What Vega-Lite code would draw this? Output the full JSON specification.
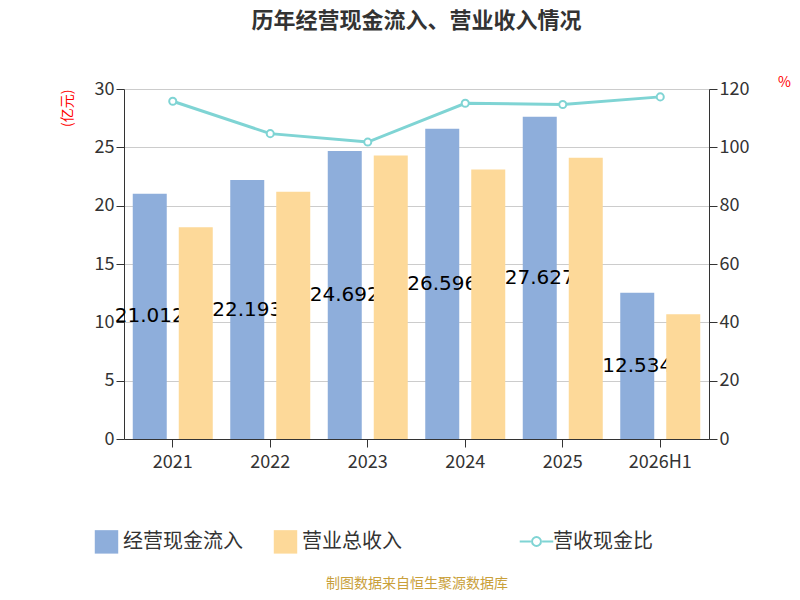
{
  "$schema": "https://vega.github.io/schema/vega-lite/v6.json",
  "width": 585,
  "height": 350,
  "background": "white",
  "padding": {"left": 60, "top": 10, "right": 5, "bottom": 5},
  "title": {"text": "历年经营现金流入、营业收入情况", "fontSize": 22, "font": "Noto Sans CJK SC", "fontWeight": "bold", "color": "#333", "offset": 42},
  "config": {"font": "Noto Sans CJK SC", "view": {"stroke": null}},
  "data": {"values": [
    {"year": "2021", "cf": 21.012, "rev": 18.15, "ratio": 115.8},
    {"year": "2022", "cf": 22.193, "rev": 21.2, "ratio": 104.7},
    {"year": "2023", "cf": 24.692, "rev": 24.3, "ratio": 101.8},
    {"year": "2024", "cf": 26.596, "rev": 23.1, "ratio": 115.1},
    {"year": "2025", "cf": 27.627, "rev": 24.1, "ratio": 114.7},
    {"year": "2026H1", "cf": 12.534, "rev": 10.7, "ratio": 117.3}
  ]},
  "encoding": {
    "x": {"field": "year", "type": "nominal", "sort": null, "title": "制图数据来自恒生聚源数据库",
      "axis": {"labelAngle": 0, "labelFontSize": 18, "labelColor": "#333", "domainColor": "#333", "tickColor": "#333", "tickSize": 8, "labelPadding": 6,
        "titleColor": "#c9a03a", "titleFontSize": 14, "titleFontWeight": "normal", "titlePadding": 105}}
  },
  "layer": [
    {
      "layer": [
        {
          "mark": {"type": "bar", "width": 34, "xOffset": -23},
          "encoding": {
            "y": {"field": "cf", "type": "quantitative"},
            "color": {"datum": "经营现金流入"}
          }
        },
        {
          "transform": [{"calculate": "datum.cf / 2", "as": "mid"}],
          "mark": {"type": "text", "fontSize": 20, "font": "DejaVu Sans", "color": "black", "baseline": "middle", "dx": -23},
          "encoding": {
            "y": {"field": "mid", "type": "quantitative"},
            "text": {"field": "cf", "type": "nominal"}
          }
        },
        {
          "mark": {"type": "bar", "width": 34, "xOffset": 23},
          "encoding": {
            "y": {"field": "rev", "type": "quantitative", "scale": {"domain": [0, 30]},
              "axis": {"title": "(亿元)", "titleColor": "red", "titleFontSize": 14, "titleFontWeight": "normal", "titleAngle": -90, "titleAlign": "right", "titleAnchor": "end", "titleY": 0, "titleX": -50,
                "values": [0, 5, 10, 15, 20, 25, 30], "labelFontSize": 18, "labelColor": "#333", "domain": true, "domainColor": "#333", "tickColor": "#333", "tickSize": 8, "gridColor": "#ccc"}},
            "color": {"datum": "营业总收入",
              "scale": {"domain": ["经营现金流入", "营业总收入"], "range": ["#8eaedb", "#fdd999"]},
              "legend": {"orient": "none", "legendX": -30, "legendY": 440, "direction": "horizontal", "title": null, "symbolType": "square", "symbolSize": 550, "labelFontSize": 20, "labelColor": "#333", "columnPadding": 30}}
          }
        }
      ]
    },
    {
      "layer": [
        {
          "mark": {"type": "line", "color": "#7fd4d4", "strokeWidth": 3},
          "encoding": {
            "y": {"field": "ratio", "type": "quantitative", "scale": {"domain": [0, 120]},
              "axis": {"orient": "right", "title": "%", "titleColor": "red", "titleFontSize": 14, "titleFontWeight": "normal", "titleAngle": 0, "titleY": 0, "titleX": 75,
                "values": [0, 20, 40, 60, 80, 100, 120], "labelFontSize": 18, "labelColor": "#333", "grid": false, "domainColor": "#333", "tickColor": "#333", "tickSize": 8}},
            "stroke": {"datum": "营收现金比", "scale": {"range": ["#7fd4d4"]},
              "legend": {"orient": "none", "legendX": 400, "legendY": 440, "title": null, "symbolType": "M-1.5,0L-0.5,0M0.5,0L1.5,0M0.4,0A0.4,0.4 0 1,1 -0.4,0A0.4,0.4 0 1,1 0.4,0", "symbolSize": 500, "symbolStrokeWidth": 2, "symbolFillColor": "white", "labelFontSize": 20, "labelColor": "#333"}}
          }
        },
        {
          "mark": {"type": "point", "filled": true, "fill": "white", "stroke": "#7fd4d4", "strokeWidth": 2, "size": 50, "opacity": 1},
          "encoding": {"y": {"field": "ratio", "type": "quantitative"}}
        }
      ]
    }
  ],
  "resolve": {"scale": {"y": "independent"}}
}
